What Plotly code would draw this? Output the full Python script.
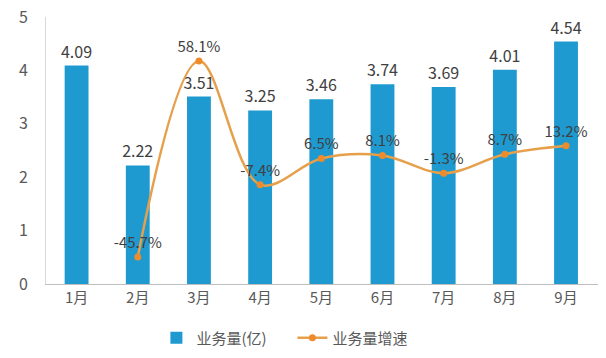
import plotly.graph_objects as go

months = ["1月", "2月", "3月", "4月", "5月", "6月", "7月", "8月", "9月"]
volume = [4.09, 2.22, 3.51, 3.25, 3.46, 3.74, 3.69, 4.01, 4.54]
growth = [None, -45.7, 58.1, -7.4, 6.5, 8.1, -1.3, 8.7, 13.2]
volume_labels = [f"{v:.2f}" for v in volume]
growth_labels = ["" if g is None else f"{g}%" for g in growth]

FONT = "Noto Sans CJK SC, Open Sans, sans-serif"
TXT = "#404040"

fig = go.Figure()
fig.add_trace(go.Bar(
    x=months, y=volume, name="业务量(亿)",
    marker=dict(color="#1E9AD0", line=dict(width=0)),
    width=0.39,
    text=volume_labels, textposition="outside", cliponaxis=False,
    constraintext="none", textangle=0,
    textfont=dict(size=16, color=TXT, family=FONT),
))
fig.add_trace(go.Scatter(
    x=months[1:], y=growth[1:], name="业务量增速", yaxis="y2",
    mode="lines+markers+text",
    line=dict(color="#E6A04C", width=2.5, shape="spline", smoothing=1.0),
    marker=dict(color="#EE8C2B", size=7),
    text=growth_labels[1:], textposition="top center", cliponaxis=False,
    textfont=dict(size=15, color=TXT, family=FONT),
))

fig.update_layout(
    width=606, height=358,
    margin=dict(l=46, r=8, t=17, b=0),
    paper_bgcolor="white", plot_bgcolor="white",
    font=dict(family=FONT, size=14, color="#595959"),
    showlegend=True,
    legend=dict(orientation="h", x=0.2, xanchor="left", y=0.0587, yanchor="middle",
                font=dict(size=15, color="#595959"), itemwidth=30,
                entrywidth=91, entrywidthmode="pixels"),
    xaxis=dict(showgrid=False, showline=True, linecolor="#BFBFBF", linewidth=1,
               ticks="", tickfont=dict(size=15, color="#595959"), automargin=False),
    yaxis=dict(range=[0, 5], dtick=1, showgrid=False, showline=True,
               domain=[0.217, 1.0],
               linecolor="#D9D9D9", linewidth=1, ticks="", zeroline=False,
               tickfont=dict(size=16, color="#595959"), ticklabelstandoff=14,
               ticklabeloverflow="allow", automargin=False),
    yaxis2=dict(range=[-60, 81.4], overlaying="y", side="right", visible=False,
                domain=[0.217, 1.0], showgrid=False, zeroline=False),
)

fig.write_html("out.html", config={"displayModeBar": False},
               post_script="document.body.style.margin='0';document.body.style.overflow='hidden';")
